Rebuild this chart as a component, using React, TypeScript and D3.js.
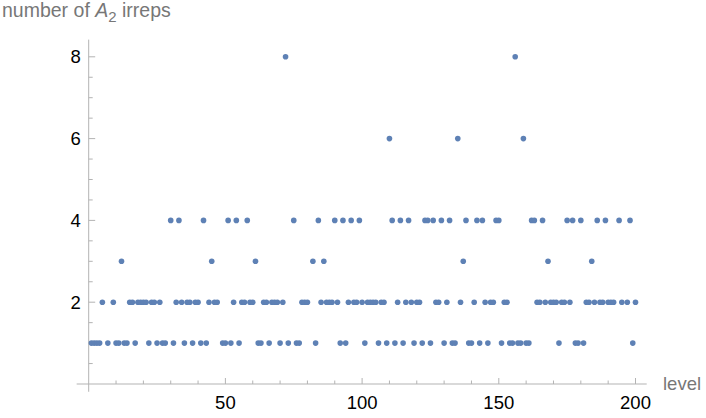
import React from 'react';
import * as d3 from 'd3';

// levels grouped by the number of A2 irreps at that level
const levelsWith1 = [1, 2, 3, 4, 7, 10, 11, 13, 14, 17, 22, 25, 27, 28, 31, 35, 38, 41, 43, 49, 50, 52, 55, 62, 63, 66, 70, 73, 76, 77, 83, 92, 94, 101, 106, 109, 112, 115, 119, 122, 125, 130, 133, 134, 139, 140, 143, 146, 151, 154, 155, 157, 158, 160, 161, 172, 178, 179, 181, 199];
const levelsWith2 = [5, 9, 15, 16, 18, 19, 20, 21, 23, 24, 26, 32, 34, 36, 37, 39, 40, 44, 46, 47, 53, 56, 57, 59, 60, 64, 65, 67, 68, 69, 71, 78, 79, 80, 85, 87, 88, 89, 91, 95, 97, 98, 100, 102, 103, 104, 105, 107, 108, 113, 116, 118, 120, 121, 127, 128, 131, 136, 141, 145, 147, 148, 152, 153, 164, 165, 167, 169, 170, 171, 173, 174, 176, 182, 183, 185, 187, 188, 190, 191, 192, 195, 197, 200];
const levelsWith3 = [12, 45, 61, 82, 86, 137, 168, 184];
const levelsWith4 = [30, 33, 42, 51, 54, 58, 75, 84, 90, 93, 96, 99, 111, 114, 117, 123, 124, 126, 129, 132, 138, 142, 144, 149, 150, 162, 163, 166, 175, 177, 180, 186, 189, 194, 198];
const levelsWith6 = [110, 135, 159];
const levelsWith8 = [72, 156];

const xTickLabels = [50, 100, 150, 200];
const yTickLabels = [2, 4, 6, 8];

const groups: [number, number[]][] = [
  [1, levelsWith1],
  [2, levelsWith2],
  [3, levelsWith3],
  [4, levelsWith4],
  [6, levelsWith6],
  [8, levelsWith8],
];
const points = groups.flatMap(([count, levels]) => levels.map(level => ({ level, count })));

const W = 706, H = 418;
const axisColor = '#b3b3b3';
const labelColor = '#777';
const font = '"Liberation Sans", Arial, sans-serif';

export default function App() {
  const x = d3.scaleLinear().domain([0, 200]).range([88.7, 635.5]);
  const y = d3.scaleLinear().domain([0, 8]).range([384, 56.8]);

  const xMinor = d3.range(10, 201, 10).filter(v => !xTickLabels.includes(v));
  const yMinor = d3.range(0.5, 8.5, 0.5).filter(v => !yTickLabels.includes(v));

  return (
    <svg width={W} height={H} style={{ position: 'absolute', left: 0, top: 0, fontFamily: font }}>
      {/* axes */}
      <line x1={x(-4.4)} x2={x(204.1)} y1={y(0)} y2={y(0)} stroke={axisColor} strokeWidth={1} />
      <line x1={x(0)} x2={x(0)} y1={y(-0.19)} y2={y(8.42)} stroke={axisColor} strokeWidth={1} />

      {/* x ticks */}
      {xMinor.map(v => (
        <line key={'xm' + v} x1={x(v)} x2={x(v)} y1={y(0)} y2={y(0) - 3.5} stroke={axisColor} />
      ))}
      {xTickLabels.map(v => (
        <g key={'x' + v}>
          <line x1={x(v)} x2={x(v)} y1={y(0)} y2={y(0) - 6} stroke={axisColor} />
          <text x={x(v)} y={y(0) + 25} textAnchor="middle" fontSize={18.5} fill="#000">{v}</text>
        </g>
      ))}

      {/* y ticks */}
      {yMinor.map(v => (
        <line key={'ym' + v} x1={x(0)} x2={x(0) + 4} y1={y(v)} y2={y(v)} stroke={axisColor} />
      ))}
      {yTickLabels.map(v => (
        <g key={'y' + v}>
          <line x1={x(0)} x2={x(0) + 6.5} y1={y(v)} y2={y(v)} stroke={axisColor} />
          <text x={x(0) - 8} y={y(v)} dy="0.35em" textAnchor="end" fontSize={18.5} fill="#000">{v}</text>
        </g>
      ))}

      {/* axis labels */}
      <text x={663} y={390} fontSize={18.5} fill={labelColor}>level</text>
      <text x={2} y={17} fontSize={19.5} fill={labelColor}>
        number of <tspan fontStyle="italic">A</tspan>
        <tspan fontSize={15} dy={5}>2</tspan>
        <tspan dy={-5}> irreps</tspan>
      </text>

      {/* points */}
      {points.map((p, i) => (
        <circle key={i} cx={x(p.level)} cy={y(p.count)} r={2.8} fill="#5E81B5" />
      ))}
    </svg>
  );
}
